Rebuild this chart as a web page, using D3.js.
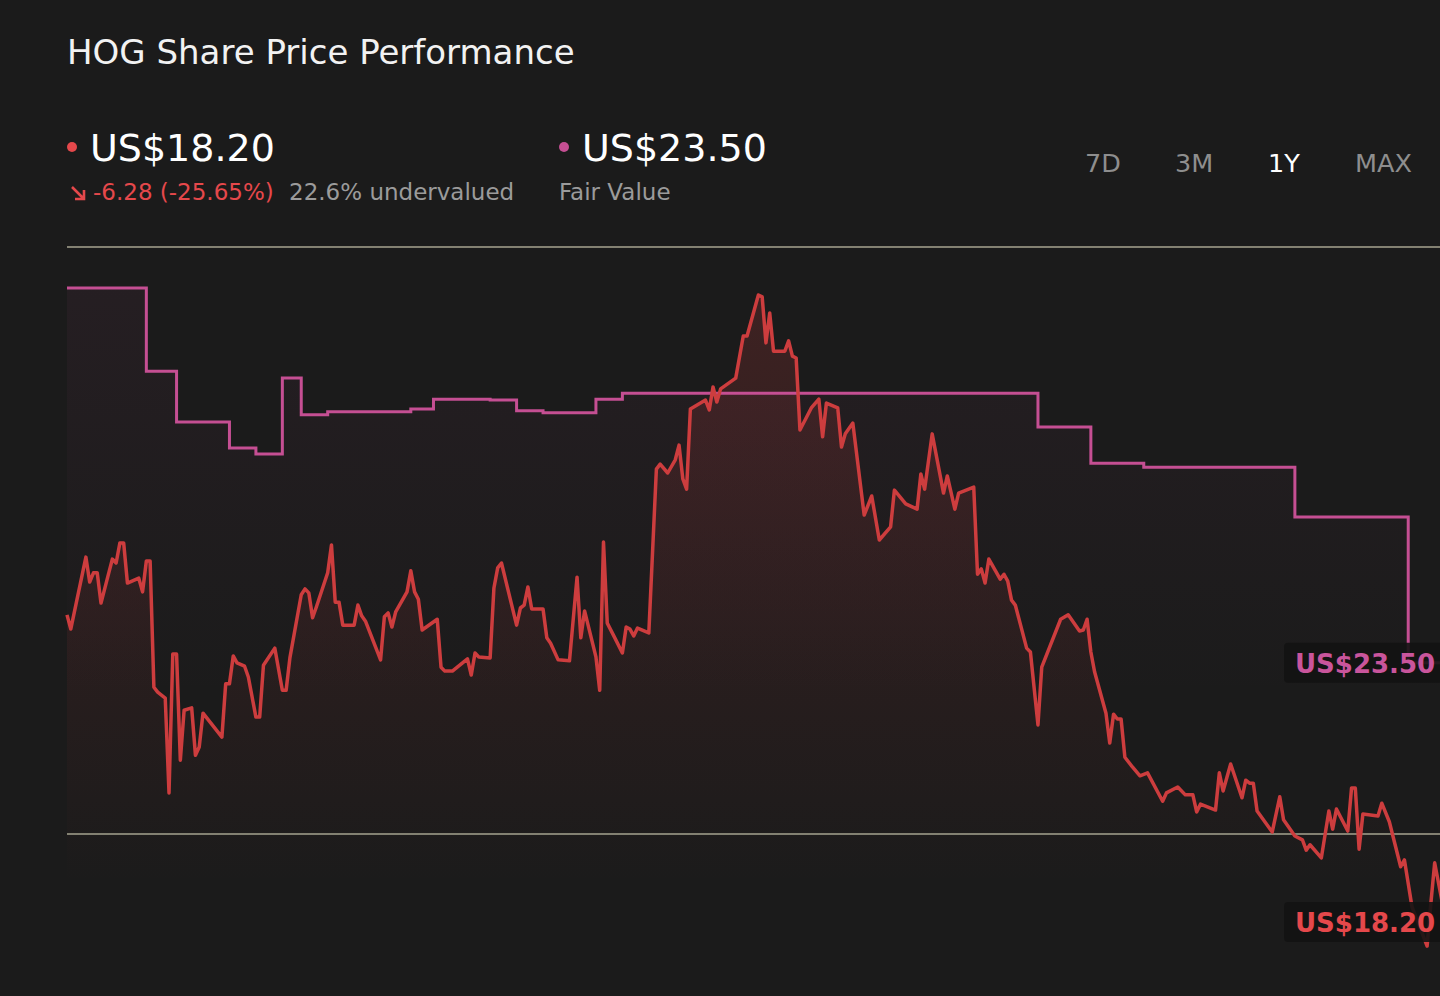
<!DOCTYPE html>
<html>
<head lang="en">
    <meta charset="UTF-8">
    <title>HOG Share Price Performance</title>
    <script src="https://d3js.org/d3.v7.min.js"></script>
    <style>
        html, body { margin: 0; padding: 0; background: #1b1b1b; }
        svg { display: block; font-family: "DejaVu Sans", sans-serif; }
    </style>
</head>
<body>
<div id="chartContainer"></div>
<script type="text/javascript">

    // share price, calendar day offset within the year -> close (US$)
    var priceDays = [0, 1, 5, 6, 7, 8, 9, 12, 13, 14, 15, 16, 19, 20, 21, 22, 23, 24, 26, 27,
        28, 29, 30, 31, 33, 34, 35, 36, 41, 42, 43, 44, 45, 47, 48, 50, 51, 52, 55, 57,
        58, 59, 62, 63, 64, 65, 66, 69, 70, 71, 72, 73, 76, 77, 78, 79, 83, 84, 85, 86,
        87, 90, 91, 92, 93, 94, 98, 99, 100, 102, 106, 107, 108, 109, 112, 113, 114, 115, 119, 120,
        121, 122, 123, 126, 127, 128, 130, 133, 135, 136, 137, 140, 141, 142, 143, 145, 147, 148, 149, 150,
        151, 154, 156, 157, 159, 161, 162, 163, 164, 165, 169, 170, 171, 172, 173, 177, 179, 180, 183, 184,
        185, 186, 187, 190, 191, 192, 193, 194, 197, 199, 200, 201, 204, 205, 206, 208, 211, 213, 215, 218,
        219, 222, 225, 226, 227, 229, 232, 233, 235, 236, 240, 241, 242, 243, 244, 247, 248, 249, 250, 251,
        254, 255, 257, 258, 263, 265, 268, 269, 270, 271, 272, 275, 276, 277, 278, 279, 280, 282, 284, 286,
        290, 291, 294, 296, 298, 299, 300, 304, 305, 306, 308, 311, 312, 313, 314, 315, 319, 321, 322, 325,
        327, 328, 329, 332, 334, 335, 336, 339, 340, 341, 342, 343, 347, 348, 350, 353, 354, 356, 360, 361,
        362, 365];
    var priceVals = [24.48, 24.19, 25.66, 25.15, 25.34, 25.34, 24.72, 25.62, 25.54, 25.95, 25.95, 25.13, 25.23, 24.95, 25.58, 25.58, 23.00, 22.90, 22.78, 20.84,
        23.68, 23.68, 21.51, 22.53, 22.58, 21.61, 21.78, 22.47, 21.98, 23.07, 23.07, 23.64, 23.50, 23.43, 23.21, 22.39, 22.39, 23.45, 23.80, 22.94,
        22.94, 23.60, 24.89, 25.01, 24.93, 24.42, 24.64, 25.34, 25.91, 24.74, 24.74, 24.27, 24.27, 24.68, 24.46, 24.35, 23.56, 24.44, 24.52, 24.23,
        24.54, 24.95, 25.38, 24.95, 24.80, 24.17, 24.39, 23.41, 23.33, 23.33, 23.58, 23.25, 23.70, 23.62, 23.60, 25.03, 25.44, 25.54, 24.27, 24.62,
        24.68, 25.05, 24.60, 24.60, 24.01, 23.90, 23.56, 23.54, 25.25, 24.01, 24.56, 23.62, 22.94, 25.97, 24.31, 24.01, 23.70, 24.23, 24.19, 24.05,
        24.21, 24.11, 27.46, 27.56, 27.38, 27.65, 27.95, 27.26, 27.05, 28.69, 28.87, 28.67, 29.14, 28.83, 29.10, 29.32, 30.18, 30.18, 31.02, 30.98,
        30.04, 30.65, 29.87, 29.87, 30.08, 29.77, 29.73, 28.26, 28.71, 28.89, 28.12, 28.81, 28.71, 27.91, 28.18, 28.40, 26.52, 26.91, 26.01, 26.28,
        27.03, 26.75, 26.64, 27.36, 27.05, 28.18, 26.97, 27.32, 26.64, 26.97, 27.09, 25.31, 25.42, 25.13, 25.62, 25.21, 25.31, 25.17, 24.78, 24.68,
        23.80, 23.72, 22.23, 23.41, 24.39, 24.48, 24.15, 24.17, 24.39, 23.72, 23.31, 22.47, 21.86, 22.45, 22.35, 22.35, 21.57, 21.37, 21.19, 21.25,
        20.67, 20.84, 20.96, 20.80, 20.80, 20.45, 20.61, 20.49, 21.25, 20.88, 21.43, 20.74, 21.10, 21.04, 21.04, 20.47, 20.04, 20.76, 20.29, 19.96,
        19.88, 19.67, 19.78, 19.51, 20.47, 20.10, 20.51, 20.06, 20.94, 20.94, 19.69, 20.41, 20.37, 20.63, 20.25, 19.33, 19.47, 18.51, 17.71, 18.59,
        19.41, 18.20];

    // fair value estimate, each value holds from its day until the next change
    var fairDays = [0, 21, 29, 43, 50, 57, 62, 69, 91, 97, 112, 119, 126, 140, 147, 257, 271, 285, 325, 355, 365];
    var fairVals = [31.16, 29.46, 28.42, 27.89, 27.77, 29.32, 28.57, 28.63, 28.69, 28.89, 28.87, 28.65, 28.61, 28.89, 29.01, 28.32, 27.58, 27.50, 26.48, 23.50, 23.50];

    var gridValues = [20, 32];
    var periods = ["7D", "3M", "1Y", "MAX"];
    var activePeriod = "1Y";

    var lastPrice = "US$18.20";
    var priceChange = "-6.28 (-25.65%)";
    var valuation = "22.6% undervalued";
    var fairValue = "US$23.50";

    var priceColor = "#cd3d3e";
    var priceText = "#e5484b";
    var fairColor = "#c54f93";
    var fairText = "#c9559c";

    var width = 1440, height = 996;
    var svg = d3.select("#chartContainer").append("svg")
        .attr("width", width)
        .attr("height", height);

    svg.append("rect").attr("width", width).attr("height", height).attr("fill", "#1b1b1b");

    var price = priceDays.map(function (d, i) { return { day: d, value: priceVals[i] }; });
    var fair = fairDays.map(function (d, i) { return { day: d, value: fairVals[i] }; });

    // the plot runs a little past the right edge of the picture
    var x = d3.scaleLinear().domain([0, 365]).range([67, 1446]);
    var y = d3.scaleLinear().domain([20, 32]).range([834, 247]);
    var fillBottom = 885;

    var defs = svg.append("defs");
    var g1 = defs.append("linearGradient").attr("id", "priceFill")
        .attr("gradientUnits", "userSpaceOnUse")
        .attr("x1", 0).attr("y1", 290).attr("x2", 0).attr("y2", fillBottom);
    g1.append("stop").attr("offset", 0).attr("stop-color", priceColor).attr("stop-opacity", 0.2);
    g1.append("stop").attr("offset", 0.6).attr("stop-color", priceColor).attr("stop-opacity", 0.08);
    g1.append("stop").attr("offset", 1).attr("stop-color", priceColor).attr("stop-opacity", 0);
    var g2 = defs.append("linearGradient").attr("id", "fairFill")
        .attr("gradientUnits", "userSpaceOnUse")
        .attr("x1", 0).attr("y1", 290).attr("x2", 0).attr("y2", 700);
    g2.append("stop").attr("offset", 0).attr("stop-color", fairColor).attr("stop-opacity", 0.06);
    g2.append("stop").attr("offset", 1).attr("stop-color", fairColor).attr("stop-opacity", 0);

    // header
    svg.append("text")
        .attr("x", 67).attr("y", 64)
        .attr("font-size", 34).attr("fill", "#f2f2f2")
        .text("HOG Share Price Performance");

    svg.append("circle").attr("cx", 72).attr("cy", 147).attr("r", 5).attr("fill", priceText);
    svg.append("text").attr("x", 90).attr("y", 161)
        .attr("font-size", 38).attr("fill", "#ffffff").text(lastPrice);

    // little down-right arrow in front of the change
    svg.append("path")
        .attr("d", "M72,187 L84,199 M84,190 L84,199 L75,199")
        .attr("fill", "none").attr("stroke", priceText).attr("stroke-width", 2.6);
    svg.append("text").attr("x", 93).attr("y", 200)
        .attr("font-size", 23).attr("fill", priceText).text(priceChange);
    svg.append("text").attr("x", 289).attr("y", 200)
        .attr("font-size", 23).attr("fill", "#9b9b9b").text(valuation);

    svg.append("circle").attr("cx", 564).attr("cy", 147).attr("r", 5).attr("fill", fairColor);
    svg.append("text").attr("x", 582).attr("y", 161)
        .attr("font-size", 38).attr("fill", "#ffffff").text(fairValue);
    svg.append("text").attr("x", 559).attr("y", 200)
        .attr("font-size", 23).attr("fill", "#9b9b9b").text("Fair Value");

    var periodX = [1085, 1175, 1268, 1355];
    svg.selectAll("text.period")
        .data(periods)
        .enter()
        .append("text")
        .attr("class", "period")
        .attr("x", function (d, i) { return periodX[i]; })
        .attr("y", 172)
        .attr("font-size", 25.5)
        .attr("fill", function (d) { return d === activePeriod ? "#ffffff" : "#8e8e8e"; })
        .text(function (d) { return d; });

    // fills first, then grid, then the two lines on top
    var fairArea = d3.area().curve(d3.curveStepAfter)
        .x(function (d) { return x(d.day); })
        .y0(fillBottom)
        .y1(function (d) { return y(d.value); });
    svg.append("path").datum(fair).attr("d", fairArea).attr("fill", "url(#fairFill)");

    var priceArea = d3.area()
        .x(function (d) { return x(d.day); })
        .y0(fillBottom)
        .y1(function (d) { return y(d.value); });
    svg.append("path").datum(price).attr("d", priceArea).attr("fill", "url(#priceFill)");

    svg.selectAll("line.grid")
        .data(gridValues)
        .enter()
        .append("line")
        .attr("class", "grid")
        .attr("x1", 67).attr("x2", width)
        .attr("y1", function (d) { return y(d); })
        .attr("y2", function (d) { return y(d); })
        .attr("stroke", "#838172")
        .attr("stroke-width", 1.8);

    var fairLine = d3.line().curve(d3.curveStepAfter)
        .x(function (d) { return x(d.day); })
        .y(function (d) { return y(d.value); });
    svg.append("path").datum(fair).attr("d", fairLine)
        .attr("fill", "none").attr("stroke", fairColor).attr("stroke-width", 3);

    var priceLine = d3.line()
        .x(function (d) { return x(d.day); })
        .y(function (d) { return y(d.value); });
    svg.append("path").datum(price).attr("d", priceLine)
        .attr("fill", "none").attr("stroke", priceColor)
        .attr("stroke-width", 3.5).attr("stroke-linejoin", "round");

    // end-of-line value tags
    var tags = [
        { text: fairValue, value: fairVals[fairVals.length - 1], color: fairText },
        { text: lastPrice, value: priceVals[priceVals.length - 1], color: priceText }
    ];
    var tag = svg.selectAll("g.tag")
        .data(tags)
        .enter()
        .append("g")
        .attr("class", "tag")
        .attr("transform", function (d) { return "translate(1284," + y(d.value) + ")"; });
    tag.append("rect")
        .attr("x", 0).attr("y", -20).attr("width", 180).attr("height", 40).attr("rx", 4)
        .attr("fill", "#131313").attr("fill-opacity", 0.9);
    tag.append("text")
        .attr("x", 11).attr("y", 10)
        .attr("font-size", 26).attr("font-weight", "bold")
        .attr("fill", function (d) { return d.color; })
        .text(function (d) { return d.text; });

</script>
</body>
</html>
